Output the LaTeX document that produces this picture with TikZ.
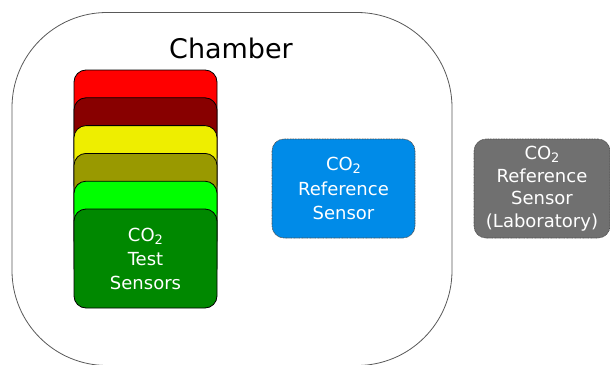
\documentclass[tikz,border=0pt]{standalone}
\usepackage{fontspec}
\setmainfont{DejaVu Sans}
\usepackage{tikz}

\definecolor{sensred}{HTML}{FF0000}
\definecolor{sensmaroon}{HTML}{880000}
\definecolor{sensyellow}{HTML}{EEEE00}
\definecolor{sensolive}{HTML}{999900}
\definecolor{senslime}{HTML}{00FF00}
\definecolor{sensgreen}{HTML}{008800}
\definecolor{refblue}{HTML}{008BE8}
\definecolor{labgray}{HTML}{707070}

\newcommand\cotwo{CO\raisebox{-0.3ex}{\fontsize{13}{13}\selectfont 2}}

\begin{document}
\begin{tikzpicture}[x=1pt,y=-1pt,
    chamber/.style={draw=black!65, line width=0.8pt, rounded corners=95pt,
        minimum width=440pt, minimum height=353pt},
    sensor/.style={draw=black, line width=0.8pt, rounded corners=12pt,
        minimum width=143pt, minimum height=99pt, inner sep=0pt},
    refbox/.style={draw=black!70, line width=0.6pt, dash pattern=on 1pt off 0.6pt,
        rounded corners=12pt, minimum height=99pt, inner sep=0pt,
        align=center, text=white, font=\fontsize{18}{24.5}\selectfont}]
    \useasboundingbox (0,0) rectangle (610,364);
    \clip (0,0) rectangle (610,364);
    % chamber
    \node[chamber] (chamber) at (232,189) {};
    \node[font=\fontsize{27}{32}\selectfont] (title) at (231,48) {Chamber};
    % stack of test sensors
    \foreach \col [count=\i] in {sensred,sensmaroon,sensyellow,sensolive,senslime}
        \node[sensor, fill=\col] (s\i) at (145.5,{70+27.8*(\i-1)+49.5}) {};
    \node[sensor, fill=sensgreen, align=center, text=white,
        font=\fontsize{18}{24}\selectfont] (test) at (145.5,258.5)
        {\cotwo\\Test\\Sensors};
    % reference sensors
    \node[refbox, fill=refblue, minimum width=143pt] (ref) at (343.5,188.5)
        {\cotwo\\Reference\\Sensor};
    \node[refbox, fill=labgray, minimum width=136pt,
        font=\fontsize{18}{22.5}\selectfont] (lab) at (542,188.5)
        {\cotwo\\Reference\\Sensor\\(Laboratory)};
\end{tikzpicture}
\end{document}
